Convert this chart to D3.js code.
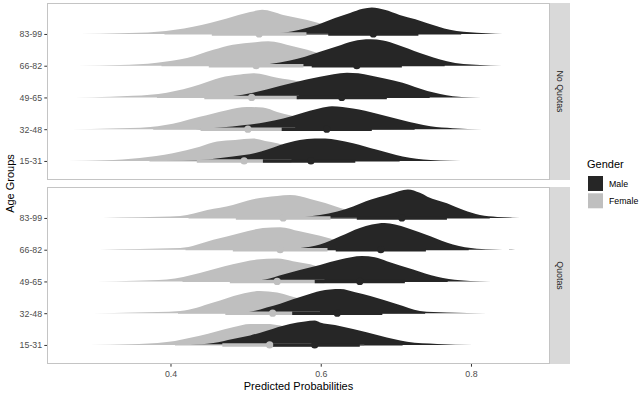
<!DOCTYPE html>
<html lang="en">
<head>
<meta charset="utf-8">
<title>Predicted Probabilities by Age Group</title>
<script src="https://cdn.jsdelivr.net/npm/d3@7"></script>
<style>
  html, body { margin: 0; padding: 0; background: #fff; }
  svg { display: block; font-family: "Liberation Sans", Arial, sans-serif; }
</style>
</head>
<body>
<script>
// categories
const ageGroups = ["15-31", "32-48", "49-65", "66-82", "83-99"];
const panels = ["No Quotas", "Quotas"];
const genders = ["Male", "Female"];
const xTicks = [0.4, 0.6, 0.8];

// medians (points), one per age group, bottom to top
const noQuotasFemaleMedian = [0.498, 0.503, 0.508, 0.514, 0.518];
const noQuotasMaleMedian   = [0.587, 0.608, 0.628, 0.648, 0.670];
const quotasFemaleMedian   = [0.532, 0.536, 0.542, 0.546, 0.550];
const quotasMaleMedian     = [0.592, 0.622, 0.652, 0.680, 0.708];

// 66% and 95% intervals
const noQuotasFemale66 = [[0.435,0.561],[0.440,0.566],[0.445,0.571],[0.451,0.577],[0.455,0.581]];
const noQuotasFemale95 = [[0.372,0.624],[0.377,0.629],[0.382,0.634],[0.388,0.640],[0.392,0.644]];
const noQuotasMale66   = [[0.523,0.646],[0.548,0.668],[0.568,0.688],[0.588,0.708],[0.610,0.730]];
const noQuotasMale95   = [[0.470,0.705],[0.491,0.725],[0.511,0.745],[0.531,0.765],[0.553,0.787]];
const quotasFemale66   = [[0.469,0.595],[0.473,0.599],[0.479,0.605],[0.483,0.609],[0.487,0.613]];
const quotasFemale95   = [[0.406,0.658],[0.410,0.662],[0.416,0.668],[0.420,0.672],[0.424,0.676]];
const quotasMale66     = [[0.532,0.652],[0.562,0.682],[0.592,0.712],[0.620,0.740],[0.648,0.768]];
const quotasMale95     = [[0.475,0.709],[0.505,0.739],[0.535,0.769],[0.563,0.797],[0.591,0.825]];

// slab outlines: [probability, height in row units]
const noQuotasFemaleSlabs = [
  [[.264,0],[.313,.02],[.359,.09],[.403,.24],[.439,.45],[.462,.61],[.486,.66],[.510,.71],[.526,.63],[.542,.56],[.572,.35],[.606,.16],[.639,.05],[.692,0]],
  [[.269,0],[.320,.02],[.373,.07],[.413,.23],[.439,.39],[.475,.60],[.502,.70],[.523,.68],[.542,.54],[.559,.44],[.586,.28],[.619,.13],[.652,.04],[.705,0]],
  [[.273,0],[.320,.02],[.350,.05],[.395,.15],[.439,.41],[.466,.62],[.493,.72],[.510,.76],[.542,.62],[.572,.50],[.599,.31],[.632,.13],[.666,.04],[.719,0]],
  [[.277,0],[.333,.02],[.382,.09],[.422,.24],[.457,.50],[.483,.66],[.513,.74],[.530,.77],[.563,.61],[.582,.50],[.612,.28],[.646,.11],[.679,.03],[.732,0]],
  [[.280,0],[.333,.02],[.382,.07],[.430,.23],[.475,.49],[.506,.69],[.522,.76],[.550,.60],[.582,.44],[.612,.25],[.646,.11],[.679,.03],[.732,0]]
];
const noQuotasMaleSlabs = [
  [[.393,0],[.439,.03],[.483,.14],[.513,.25],[.528,.35],[.546,.50],[.572,.66],[.592,.71],[.606,.71],[.622,.66],[.643,.56],[.675,.35],[.709,.14],[.746,.03],[.772,.01],[.801,0]],
  [[.433,0],[.466,.05],[.499,.13],[.526,.22],[.550,.34],[.572,.49],[.599,.66],[.615,.72],[.643,.65],[.675,.49],[.709,.28],[.746,.09],[.776,.03],[.815,0]],
  [[.453,0],[.486,.05],[.506,.13],[.528,.25],[.563,.46],[.599,.65],[.635,.78],[.650,.76],[.666,.69],[.685,.60],[.709,.46],[.742,.20],[.776,.04],[.799,.01],[.828,0]],
  [[.499,0],[.532,.05],[.559,.16],[.579,.28],[.599,.44],[.622,.61],[.643,.77],[.666,.83],[.683,.79],[.702,.66],[.732,.40],[.768,.14],[.790,.05],[.812,.02],[.841,0]],
  [[.516,0],[.550,.04],[.572,.13],[.595,.28],[.619,.50],[.639,.66],[.656,.79],[.668,.83],[.685,.76],[.705,.60],[.726,.46],[.742,.34],[.772,.13],[.808,.04],[.832,.01],[.855,0]]
];
const quotasFemaleSlabs = [
  [[.293,0],[.346,.02],[.395,.09],[.439,.29],[.483,.56],[.506,.66],[.528,.66],[.546,.61],[.572,.41],[.606,.19],[.639,.06],[.685,0]],
  [[.297,0],[.353,.02],[.413,.07],[.457,.34],[.493,.60],[.519,.70],[.542,.65],[.559,.54],[.586,.36],[.619,.16],[.652,.05],[.705,0]],
  [[.302,0],[.353,.02],[.395,.06],[.439,.27],[.483,.54],[.515,.69],[.542,.72],[.563,.64],[.586,.54],[.612,.33],[.646,.14],[.679,.04],[.732,0]],
  [[.306,0],[.359,.02],[.413,.05],[.457,.31],[.493,.53],[.523,.68],[.546,.71],[.572,.58],[.599,.44],[.626,.27],[.659,.11],[.692,.03],[.746,0]],
  [[.310,0],[.359,.02],[.413,.06],[.449,.25],[.483,.41],[.510,.59],[.542,.69],[.559,.72],[.586,.60],[.606,.47],[.626,.31],[.659,.14],[.692,.05],[.746,0]]
];
const quotasMaleSlabs = [
  [[.426,0],[.457,.06],[.483,.19],[.506,.30],[.528,.45],[.559,.66],[.579,.74],[.592,.77],[.599,.71],[.619,.63],[.643,.50],[.679,.29],[.715,.10],[.755,.03],[.803,0]],
  [[.486,0],[.508,.05],[.528,.18],[.546,.30],[.563,.44],[.582,.58],[.599,.70],[.626,.76],[.646,.66],[.666,.54],[.702,.28],[.732,.07],[.768,.02],[.821,0]],
  [[.499,0],[.526,.06],[.550,.22],[.572,.36],[.599,.52],[.626,.69],[.655,.80],[.672,.76],[.688,.64],[.723,.38],[.755,.15],[.786,.04],[.812,.01],[.841,0]],
  [[.535,0],[.566,.04],[.586,.09],[.599,.16],[.626,.42],[.652,.68],[.668,.79],[.685,.84],[.699,.79],[.715,.68],[.746,.42],[.776,.16],[.808,.03],[.832,.01],[.859,0]],
  [[.552,0],[.579,.03],[.599,.09],[.622,.20],[.643,.36],[.666,.57],[.688,.72],[.705,.85],[.716,.90],[.732,.79],[.742,.67],[.768,.46],[.790,.25],[.812,.09],[.835,.03],[.855,.01],[.875,0]]
];

// sizes
let w = 640;
let h = 395;
let panelLeft = 47, panelRight = 550;
let stripW = 20;
let panelBox = [[3, 180], [187, 364]];
let colors = { Male: "#262626", Female: "#bfbfbf" };

let svg = d3.select("body").append("svg")
  .attr("width", w)
  .attr("height", h);

svg.append("rect").attr("width", w).attr("height", h).attr("fill", "#fff");

let xScale = d3.scaleLinear()
  .domain([0.2356, 0.9052])
  .range([panelLeft, panelRight]);

let panelData = [
  { name: panels[0], female: noQuotasFemaleSlabs, male: noQuotasMaleSlabs,
    fMed: noQuotasFemaleMedian, mMed: noQuotasMaleMedian,
    f66: noQuotasFemale66, f95: noQuotasFemale95, m66: noQuotasMale66, m95: noQuotasMale95 },
  { name: panels[1], female: quotasFemaleSlabs, male: quotasMaleSlabs,
    fMed: quotasFemaleMedian, mMed: quotasMaleMedian,
    f66: quotasFemale66, f95: quotasFemale95, m66: quotasMale66, m95: quotasMale95 }
];

panelData.forEach((p, pi) => {
  let top = panelBox[pi][0], bottom = panelBox[pi][1];
  let yScale = d3.scaleLinear().domain([-0.6, 4.975]).range([bottom, top]);

  let g = svg.append("g");

  // clip to panel
  let clipId = "clip" + pi;
  svg.append("clipPath").attr("id", clipId)
    .append("rect")
    .attr("x", panelLeft).attr("y", top)
    .attr("width", panelRight - panelLeft).attr("height", bottom - top);

  let plot = g.append("g").attr("clip-path", "url(#" + clipId + ")");

  // slabs: female first, male on top
  [["Female", p.female], ["Male", p.male]].forEach(([sex, slabs]) => {
    slabs.forEach((pts, i) => {
      let area = d3.area()
        .x(d => xScale(d[0]))
        .y0(yScale(i))
        .y1(d => yScale(i + d[1]))
        .curve(d3.curveMonotoneX);
      plot.append("path")
        .datum(pts)
        .attr("d", area)
        .attr("fill", colors[sex]);
    });
  });

  // intervals: 95% thin then 66% thick
  [[p.f95, "Female", 1.3], [p.m95, "Male", 1.3], [p.f66, "Female", 3.4], [p.m66, "Male", 3.4]]
    .forEach(([ints, sex, lw]) => {
      plot.selectAll(null)
        .data(ints)
        .enter()
        .append("line")
        .attr("x1", d => xScale(d[0]))
        .attr("x2", d => xScale(d[1]))
        .attr("y1", (d, i) => yScale(i))
        .attr("y2", (d, i) => yScale(i))
        .attr("stroke", colors[sex])
        .attr("stroke-width", lw);
    });

  // points
  [[p.fMed, "Female"], [p.mMed, "Male"]].forEach(([meds, sex]) => {
    plot.selectAll(null)
      .data(meds)
      .enter()
      .append("circle")
      .attr("cx", d => xScale(d))
      .attr("cy", (d, i) => yScale(i))
      .attr("r", 3.6)
      .attr("fill", colors[sex]);
  });

  // panel border
  g.append("rect")
    .attr("x", panelLeft + 0.5).attr("y", top + 0.5)
    .attr("width", panelRight - panelLeft - 1).attr("height", bottom - top - 1)
    .attr("fill", "none")
    .attr("stroke", "#c4c4c4")
    .attr("stroke-width", 1);

  // strip
  g.append("rect")
    .attr("x", panelRight).attr("y", top)
    .attr("width", stripW).attr("height", bottom - top)
    .attr("fill", "#d9d9d9");
  g.append("text")
    .attr("transform", "translate(" + (panelRight + stripW / 2) + "," + ((top + bottom) / 2) + ") rotate(90)")
    .attr("text-anchor", "middle")
    .attr("dy", "0.35em")
    .attr("font-size", "8.8px")
    .attr("fill", "#1a1a1a")
    .text(p.name);

  // y axis
  let yAxis = d3.axisLeft(yScale)
    .tickValues(d3.range(ageGroups.length))
    .tickFormat(i => ageGroups[i])
    .tickSizeInner(2.7)
    .tickSizeOuter(0)
    .tickPadding(2.2);
  let ya = g.append("g")
    .attr("transform", "translate(" + panelLeft + ",0)")
    .call(yAxis);
  ya.select(".domain").remove();
  ya.selectAll(".tick line").attr("stroke", "#333");
  ya.selectAll(".tick text")
    .attr("fill", "#4d4d4d")
    .attr("font-size", "8.8px")
    .attr("font-family", "Liberation Sans, Arial, sans-serif");

  // x axis on the bottom panel
  if (pi === 1) {
    let xAxis = d3.axisBottom(xScale)
      .tickValues(xTicks)
      .tickFormat(d3.format(".1f"))
      .tickSizeInner(2.7)
      .tickSizeOuter(0)
      .tickPadding(4.5);
    let xa = g.append("g")
      .attr("transform", "translate(0," + bottom + ")")
      .call(xAxis);
    xa.select(".domain").remove();
    xa.selectAll(".tick line").attr("stroke", "#333");
    xa.selectAll(".tick text")
      .attr("fill", "#4d4d4d")
      .attr("font-size", "8.8px")
      .attr("font-family", "Liberation Sans, Arial, sans-serif");
  }
});

// axis titles
svg.append("text")
  .attr("x", (panelLeft + panelRight) / 2)
  .attr("y", 390)
  .attr("text-anchor", "middle")
  .attr("font-size", "11px")
  .attr("fill", "#000")
  .text("Predicted Probabilities");

svg.append("text")
  .attr("transform", "translate(14," + ((panelBox[0][0] + panelBox[1][1]) / 2) + ") rotate(-90)")
  .attr("text-anchor", "middle")
  .attr("font-size", "11px")
  .attr("fill", "#000")
  .text("Age Groups");

// legend
let legend = svg.append("g").attr("transform", "translate(588,0)");
legend.append("text")
  .attr("x", -1).attr("y", 168)
  .attr("font-size", "11px")
  .attr("fill", "#000")
  .text("Gender");
genders.forEach((sex, i) => {
  legend.append("rect")
    .attr("x", 0).attr("y", 176 + i * 17.3)
    .attr("width", 15).attr("height", 15)
    .attr("fill", colors[sex]);
  legend.append("text")
    .attr("x", 21).attr("y", 176 + i * 17.3 + 7.5)
    .attr("dy", "0.35em")
    .attr("font-size", "8.8px")
    .attr("fill", "#000")
    .text(sex);
});
</script>
</body>
</html>
